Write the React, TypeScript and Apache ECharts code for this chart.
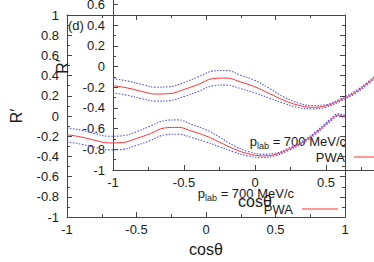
import React, { useEffect, useRef } from "react";
import * as echarts from "echarts";

// cos(theta) sample points
const cosTheta = [-1, -0.9, -0.8, -0.7, -0.6, -0.5, -0.4, -0.3, -0.2, -0.1, 0, 0.1, 0.2, 0.3, 0.4, 0.5, 0.6, 0.7, 0.8, 0.9, 0.95, 1];
// PWA central curve (red)
const pwa = [-0.185, -0.207, -0.24, -0.266, -0.262, -0.222, -0.174, -0.118, -0.112, -0.15, -0.197, -0.26, -0.325, -0.372, -0.394, -0.38, -0.325, -0.255, -0.155, -0.035, 0.01, -0.005];
// error band upper (blue dotted)
const pwaUpper = [-0.117, -0.14, -0.172, -0.2, -0.195, -0.155, -0.1, -0.045, -0.038, -0.085, -0.135, -0.21, -0.293, -0.35, -0.377, -0.368, -0.313, -0.243, -0.143, -0.023, 0.022, 0.007];
// error band lower (blue dotted)
const pwaLower = [-0.255, -0.278, -0.31, -0.335, -0.33, -0.29, -0.242, -0.187, -0.18, -0.215, -0.255, -0.305, -0.355, -0.395, -0.41, -0.393, -0.337, -0.267, -0.167, -0.047, -0.002, -0.017];

const xLabelTitle = "cosθ";
const yLabelTitle = "R′";
const legendTitle = "700 MeV/c";
const legendEntry = "PWA";
const panelTag = "(d)";

const FONT = "Liberation Sans, Arial, sans-serif";
const AX = "#444";
const TXT = "#1a1a1a";
const RED = "#ff3333";
const BLUE = "#5050ff";
const OY = 60; // container is shifted up by this many pixels

export default function App() {
  const ref = useRef<HTMLDivElement>(null);
  useEffect(() => {
    if (!ref.current) return;
    const chart = echarts.init(ref.current, undefined, { renderer: "svg" });
    const panels = [
      { left: 61, top: 15 + OY, dx: 0, dy: 0 },
      { left: 113, top: -37 + OY, dx: 52, dy: -52 },
    ];
    const fmt = (v: number) => String(Number(v.toFixed(2)));
    const lineStyle = { color: AX, width: 1 };
    const grids: any[] = [];
    const xAxes: any[] = [];
    const yAxes: any[] = [];
    const series: any[] = [];
    const graphics: any[] = [];
    const zip = (ys: number[]) => cosTheta.map((x, i) => [x, ys[i]]);

    panels.forEach((p, i) => {
      grids.push({ left: p.left, top: p.top, width: 284, height: 207, containLabel: false });
      const baseX = {
        type: "value",
        gridIndex: i,
        min: -1,
        max: 1,
        interval: 0.5,
        axisLine: { show: true, onZero: false, lineStyle },
        axisTick: { show: true, inside: true, length: 5, lineStyle },
        minorTick: { show: true, splitNumber: 2, length: 3, lineStyle },
        splitLine: { show: false },
      };
      xAxes.push({
        ...baseX,
        position: "bottom",
        axisLabel: { fontSize: 13, color: TXT, fontFamily: FONT, margin: 6, formatter: fmt },
        name: xLabelTitle,
        nameLocation: "middle",
        nameGap: 21,
        nameTextStyle: { fontSize: 16, color: TXT, fontFamily: FONT },
      });
      xAxes.push({ ...baseX, position: "top", axisLabel: { show: false } });
      const baseY = {
        type: "value",
        gridIndex: i,
        min: -1,
        max: 1,
        interval: 0.2,
        axisLine: { show: true, onZero: false, lineStyle },
        axisTick: { show: true, inside: true, length: 5, lineStyle },
        minorTick: { show: true, splitNumber: 2, length: 3, lineStyle },
        splitLine: { show: false },
      };
      yAxes.push({
        ...baseY,
        position: "left",
        axisLabel: { fontSize: 13, color: TXT, fontFamily: FONT, margin: 8, formatter: fmt },
        name: yLabelTitle,
        nameLocation: "middle",
        nameGap: 43,
        nameRotate: 90,
        nameTextStyle: { fontSize: 16, color: TXT, fontFamily: FONT },
      });
      yAxes.push({ ...baseY, position: "right", axisLabel: { show: false } });

      const common = { type: "line", xAxisIndex: 2 * i, yAxisIndex: 2 * i, showSymbol: false, symbol: "none", smooth: 0.4, silent: true };
      series.push({ ...common, name: "upper", data: zip(pwaUpper), lineStyle: { color: BLUE, width: 1.1, type: [1.5, 1.5] } });
      series.push({ ...common, name: "lower", data: zip(pwaLower), lineStyle: { color: BLUE, width: 1.1, type: [1.5, 1.5] } });
      series.push({ ...common, name: legendEntry, data: zip(pwa), lineStyle: { color: RED, width: 1 } });

      graphics.push({
        type: "text",
        x: 294 + p.dx,
        y: 193 + p.dy + OY,
        style: {
          text: "{a|p}{b|lab}{a| = " + legendTitle + "}",
          align: "right",
          verticalAlign: "middle",
          rich: {
            a: { fontSize: 13, fontFamily: FONT, fill: TXT, lineHeight: 18, verticalAlign: "middle" },
            b: { fontSize: 9, fontFamily: FONT, fill: TXT, lineHeight: 10, verticalAlign: "bottom" },
          },
        },
      });
      graphics.push({
        type: "text",
        x: 293 + p.dx,
        y: 209 + p.dy + OY,
        style: { text: legendEntry, fontSize: 13, fontFamily: FONT, fill: TXT, align: "right", verticalAlign: "middle" },
      });
      graphics.push({
        type: "line",
        shape: { x1: 302 + p.dx, y1: 209 + p.dy + OY, x2: 338 + p.dx, y2: 209 + p.dy + OY },
        style: { stroke: RED, lineWidth: 1 },
      });
    });

    graphics.push({
      type: "text",
      x: 68,
      y: 25 + OY,
      style: { text: panelTag, fontSize: 13, fontFamily: FONT, fill: TXT, align: "left", verticalAlign: "middle" },
    });

    chart.setOption({
      animation: false,
      backgroundColor: "#ffffff",
      grid: grids,
      xAxis: xAxes,
      yAxis: yAxes,
      series,
      graphic: graphics,
    });
    return () => chart.dispose();
  }, []);
  return <div ref={ref} style={{ position: "fixed", left: 0, top: -OY, width: 434, height: 262 + OY }} />;
}
